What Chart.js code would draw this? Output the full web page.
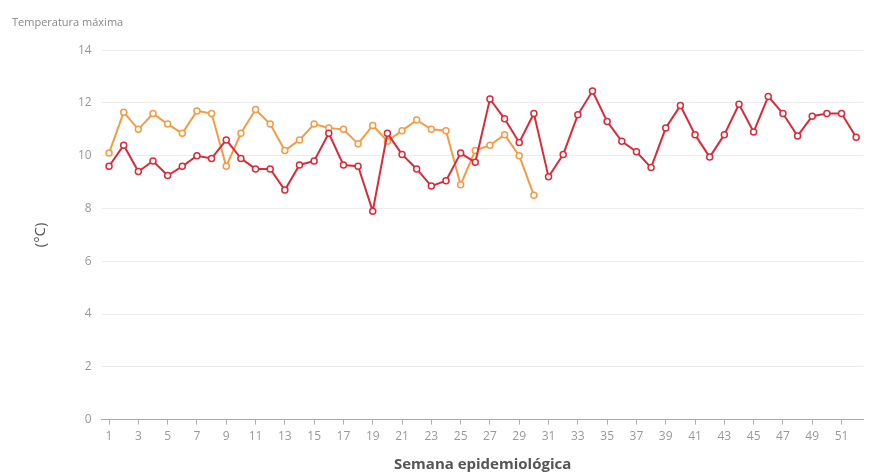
<!DOCTYPE html>
<html>
<head>
<meta charset="utf-8">
<script src="https://cdn.jsdelivr.net/npm/chart.js@4"></script>
<style>
    body { margin: 0; background: #fff; }
    #wrap { width: 869px; height: 474px; }
</style>
</head>
<body>
<div id="wrap"><canvas id="tempChart" width="869" height="474"></canvas></div>
<script>
// Semanas epidemiológicas 1..52
const weeks = [];
for (let w = 1; w <= 52; w++) weeks.push(String(w));

// Serie roja (año completo)
const redValues = [
    9.6, 10.4, 9.4, 9.8, 9.25, 9.6, 10.0, 9.9, 10.6, 9.9,
    9.5, 9.5, 8.7, 9.65, 9.8, 10.85, 9.65, 9.6, 7.9, 10.85,
    10.05, 9.5, 8.85, 9.05, 10.1, 9.75, 12.15, 11.4, 10.5, 11.6,
    9.2, 10.05, 11.55, 12.45, 11.3, 10.55, 10.15, 9.55, 11.05, 11.9,
    10.8, 9.95, 10.8, 11.95, 10.9, 12.25, 11.6, 10.75, 11.5, 11.6,
    11.6, 10.7
];

// Serie naranja (hasta la semana 30)
const orangeValues = [
    10.1, 11.65, 11.0, 11.6, 11.2, 10.85, 11.7, 11.6, 9.6, 10.85,
    11.75, 11.2, 10.2, 10.6, 11.2, 11.05, 11.0, 10.45, 11.15, 10.55,
    10.95, 11.35, 11.0, 10.95, 8.9, 10.2, 10.4, 10.8, 10.0, 8.5
];

const yTicks = [0, 2, 4, 6, 8, 10, 12, 14];

const ctx = document.getElementById('tempChart').getContext('2d');
const tempChart = new Chart(ctx, {
    type: 'line',
    data: {
        labels: weeks,
        datasets: [{
            label: 'Serie 1',
            data: redValues,
            borderColor: '#d92b3a',
            backgroundColor: '#ffffff',
            borderWidth: 2,
            pointRadius: 3,
            pointBorderWidth: 1.5,
            pointBackgroundColor: '#ffffff',
            tension: 0
        }, {
            label: 'Serie 2',
            data: orangeValues,
            borderColor: '#f59a45',
            backgroundColor: '#ffffff',
            borderWidth: 2,
            pointRadius: 3,
            pointBorderWidth: 1.5,
            pointBackgroundColor: '#ffffff',
            tension: 0
        }]
    },
    options: {
        responsive: false,
        animation: false,
        layout: {
            padding: { top: 0, right: 0, bottom: 0, left: 12 }
        },
        plugins: {
            legend: { display: false },
            tooltip: { enabled: false },
            title: {
                display: true,
                text: 'Temperatura máxima',
                align: 'start',
                color: '#888',
                font: { family: 'Open Sans', size: 11, weight: 'normal' },
                padding: { top: 16, bottom: 21 }
            }
        },
        scales: {
            x: {
                offset: true,
                grid: {
                    offset: false,
                    drawOnChartArea: false,
                    drawTicks: true,
                    tickLength: 5,
                    color: '#b0b0b0'
                },
                border: { color: '#a8a8a8', width: 1 },
                ticks: {
                    autoSkip: false,
                    maxRotation: 0,
                    padding: 5,
                    color: '#999',
                    font: { family: 'Open Sans', size: 12 },
                    callback: function (value, index) {
                        return index % 2 === 0 ? weeks[index] : null;
                    }
                },
                title: {
                    display: true,
                    text: 'Semana epidemiológica',
                    color: '#555',
                    font: { family: 'Open Sans', size: 15, weight: 'bold' },
                    padding: { top: 7, bottom: 0 }
                }
            },
            y: {
                min: yTicks[0],
                max: yTicks[yTicks.length - 1],
                afterBuildTicks: function (axis) {
                    axis.ticks = yTicks.map(v => ({ value: v }));
                },
                grid: {
                    color: '#ececec',
                    drawTicks: false
                },
                border: { display: false },
                ticks: {
                    color: '#999',
                    padding: 10,
                    font: { family: 'Open Sans', size: 12 }
                },
                title: {
                    display: true,
                    text: '(°C)',
                    color: '#555',
                    font: { family: 'Open Sans', size: 15 },
                    padding: { top: 20, bottom: 18 }
                }
            }
        }
    }
});
</script>
</body>
</html>
